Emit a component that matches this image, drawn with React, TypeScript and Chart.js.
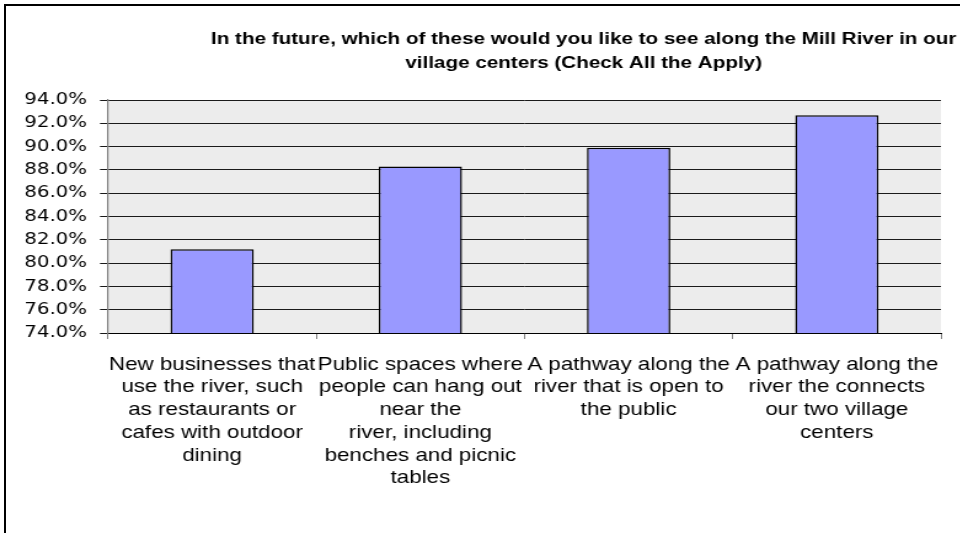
import { useEffect, useRef } from "react";
import { Chart, registerables } from "chart.js";

Chart.register(...registerables);

// ---- data ----
const titleLines: string[] = [
  "In the future, which of these would you like to see along the Mill River in our",
  "village centers (Check All the Apply)",
];

const categories: string[][] = [
  ["New businesses that", "use the river, such", "as restaurants or", "cafes with outdoor", "dining"],
  ["Public spaces where", "people can hang out", "near the", "river, including", "benches and picnic", "tables"],
  ["A pathway along the", "river that is open to", "the public"],
  ["A pathway along the", "river the connects", "our two village", "centers"],
];

const values: number[] = [81.2, 88.3, 89.9, 92.7];

const yMin = 74;
const yMax = 94;
const yStep = 2;

// ---- layout helpers ----
const S = 1.23; // horizontal stretch of the original picture
const W = 949; // unstretched canvas width
const H = 533;

const plotBg = {
  id: "plotBg",
  beforeDraw(chart: any) {
    const { ctx, chartArea: a } = chart;
    ctx.save();
    ctx.fillStyle = "#ececec";
    ctx.fillRect(a.left, a.top, a.right - a.left, a.bottom - a.top);
    ctx.restore();
  },
};

export default function App() {
  const ref = useRef<HTMLCanvasElement | null>(null);

  useEffect(() => {
    if (!ref.current) return;
    const chart = new Chart(ref.current, {
      type: "bar",
      data: {
        labels: categories,
        datasets: [
          {
            data: values,
            backgroundColor: "#9999ff",
            borderColor: "#000000",
            borderWidth: 1.5,
            categoryPercentage: 1,
            barPercentage: 0.4,
          },
        ],
      },
      plugins: [plotBg],
      options: {
        animation: false,
        responsive: true,
        maintainAspectRatio: false,
        events: [],
        layout: { padding: 0 },
        plugins: {
          legend: { display: false },
          tooltip: { enabled: false },
          title: {
            display: true,
            text: titleLines,
            color: "#000",
            font: { family: "'Liberation Sans', Arial, sans-serif", size: 16.8, weight: "bold", lineHeight: 1.43 },
            padding: { top: 27.5, bottom: 24.5 },
          },
        },
        scales: {
          x: {
            offset: true,
            grid: {
              offset: true,
              drawOnChartArea: false,
              drawTicks: true,
              tickLength: 6,
              tickColor: "#808080",
            },
            border: { color: "#000", width: 1 },
            ticks: {
              autoSkip: false,
              maxRotation: 0,
              minRotation: 0,
              padding: 14.3,
              color: "#000",
              font: { family: "'Liberation Sans', Arial, sans-serif", size: 18.2, lineHeight: 1.25 },
            },
            afterFit: (s: any) => {
              s.height = H - 333;
            },
          },
          y: {
            min: yMin,
            max: yMax,
            grid: {
              color: "#1a1a1a",
              lineWidth: 1,
              drawTicks: true,
              tickLength: 6.5,
              tickColor: "#1a1a1a",
            },
            border: { color: "#808080", width: 1.2 },
            ticks: {
              stepSize: yStep,
              padding: 10.6,
              color: "#000",
              font: { family: "'DejaVu Sans', Verdana, sans-serif", size: 16 },
              callback: (v: any) => Number(v).toFixed(1) + "%",
            },
            afterFit: (s: any) => {
              s.width = 87.8;
            },
          },
          spacer: {
            type: "linear",
            position: "right",
            display: true,
            grid: { display: false, drawTicks: false },
            border: { display: false },
            ticks: { display: false },
            afterFit: (s: any) => {
              s.width = W - 765;
            },
          },
        },
      },
    } as any);
    return () => chart.destroy();
  }, []);

  return (
    <div
      style={{
        position: "fixed",
        left: 0,
        top: 0,
        width: 960,
        height: H,
        overflow: "hidden",
        background: "#fff",
      }}
    >
      <div
        style={{
          position: "absolute",
          left: 0,
          top: 0,
          width: W,
          height: H,
          transform: `scaleX(${S})`,
          transformOrigin: "0 0",
        }}
      >
        <canvas ref={ref} />
      </div>
      <div
        style={{
          position: "absolute",
          left: 4,
          top: 4,
          width: 1200,
          height: 700,
          borderLeft: "2px solid #000",
          borderTop: "2px solid #000",
          pointerEvents: "none",
        }}
      />
    </div>
  );
}
